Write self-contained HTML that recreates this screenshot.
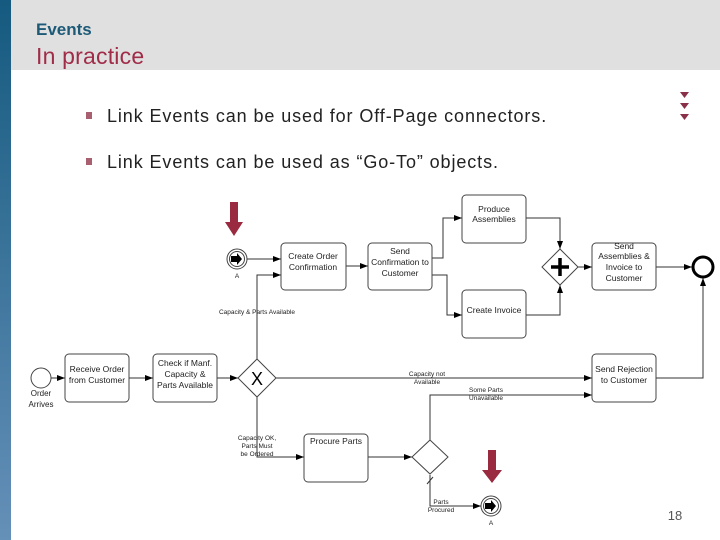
<!DOCTYPE html>
<html><head><meta charset="utf-8"><style>
html,body{margin:0;padding:0}
body{width:720px;height:540px;position:relative;overflow:hidden;background:#fff;font-family:"Liberation Sans",sans-serif}
.bar{position:absolute;left:0;top:0;width:11px;height:540px;background:linear-gradient(#155a80,#6590b8)}
.hdr{position:absolute;left:11px;top:0;width:709px;height:70px;background:#e0e0e0}
.t1{position:absolute;left:36px;top:20px;font-size:17px;font-weight:bold;color:#1d5a78}
.t2{position:absolute;left:36px;top:43px;font-size:23px;color:#a02c48;letter-spacing:0.2px}
.b{position:absolute;left:86px;font-size:18px;letter-spacing:0.9px;color:#222}
.b i{display:inline-block;width:6px;height:7px;background:#a86070;margin-right:15px;vertical-align:3px}
</style></head><body>
<div class="bar"></div><div class="hdr"></div>
<div class="t1">Events</div><div class="t2">In practice</div>
<div class="b" style="top:106px"><i></i>Link Events can be used for Off-Page connectors.</div>
<div class="b" style="top:152px"><i></i>Link Events can be used as “Go-To” objects.</div>
<svg width="720" height="540" style="position:absolute;left:0;top:0" font-family="Liberation Sans,sans-serif">
<defs><marker id="a" markerWidth="8" markerHeight="6" refX="8" refY="3" orient="auto" markerUnits="userSpaceOnUse"><path d="M0,0L8,3L0,6z" fill="#000"/></marker></defs>
<g fill="#8a3048"><path d="M680,92h9l-4.5,6z"/><path d="M680,103h9l-4.5,6z"/><path d="M680,114h9l-4.5,6z"/></g>
<g fill="#9a2a40"><path d="M230,202h8v20h5l-9,14l-9,-14h5z"/><path d="M488,450h8v20h6l-10,13l-10,-13h6z"/></g>
<g fill="none" stroke="#333" stroke-width="1">
<line x1="247" y1="259" x2="281" y2="259" marker-end="url(#a)"/>
<polyline points="257,359 257,275 281,275" marker-end="url(#a)"/>
<line x1="51" y1="378" x2="65" y2="378" marker-end="url(#a)"/>
<line x1="129" y1="378" x2="153" y2="378" marker-end="url(#a)"/>
<line x1="217" y1="378" x2="238" y2="378" marker-end="url(#a)"/>
<line x1="276" y1="378" x2="592" y2="378" marker-end="url(#a)"/>
<line x1="346" y1="266" x2="368" y2="266" marker-end="url(#a)"/>
<polyline points="432,258 443,258 443,218 462,218" marker-end="url(#a)"/>
<polyline points="432,275 447,275 447,315 462,315" marker-end="url(#a)"/>
<polyline points="526,218 560,218 560,249" marker-end="url(#a)"/>
<polyline points="526,315 560,315 560,285" marker-end="url(#a)"/>
<line x1="578" y1="267" x2="592" y2="267" marker-end="url(#a)"/>
<line x1="656" y1="267" x2="692" y2="267" marker-end="url(#a)"/>
<polyline points="656,378 703,378 703,278" marker-end="url(#a)"/>
<polyline points="430,440 430,395 592,395" marker-end="url(#a)"/>
<polyline points="257,397 257,457 304,457" marker-end="url(#a)"/>
<line x1="368" y1="457" x2="412" y2="457" marker-end="url(#a)"/>
<polyline points="430,475 430,506 481,506" marker-end="url(#a)"/>
<line x1="427" y1="484" x2="433" y2="477"/>
</g>
<g fill="#fff" stroke="#444" stroke-width="1">
<rect x="281" y="243" width="65" height="47" rx="4"/>
<rect x="368" y="243" width="64" height="47" rx="4"/>
<rect x="462" y="195" width="64" height="48" rx="4"/>
<rect x="462" y="290" width="64" height="48" rx="4"/>
<rect x="592" y="243" width="64" height="47" rx="4"/>
<rect x="592" y="354" width="64" height="48" rx="4"/>
<rect x="65" y="354" width="64" height="48" rx="4"/>
<rect x="153" y="354" width="64" height="48" rx="4"/>
<rect x="304" y="434" width="64" height="48" rx="4"/>
<path d="M257,359L276,378L257,397L238,378z"/>
<path d="M560,249L578,267L560,285L542,267z"/>
<path d="M430,440L448,457L430,474L412,457z"/>
<circle cx="41" cy="378" r="10"/>
</g>
<circle cx="703" cy="267" r="10" fill="#fff" stroke="#000" stroke-width="3"/>
<g><circle cx="237" cy="259" r="10" fill="#fff" stroke="#444"/><circle cx="237" cy="259" r="7.5" fill="#fff" stroke="#444"/><path d="M231,256h6v-3l5,6l-5,6v-3h-6z" fill="#000"/></g>
<g><circle cx="491" cy="506" r="10" fill="#fff" stroke="#444"/><circle cx="491" cy="506" r="7.5" fill="#fff" stroke="#444"/><path d="M485,503h6v-3l5,6l-5,6v-3h-6z" fill="#000"/></g>
<path d="M560,258v18M551,267h18" stroke="#000" stroke-width="3.5"/>
<text x="257" y="385" font-size="18" text-anchor="middle">X</text>
<g font-size="8.5" fill="#222" text-anchor="middle">
<text x="313" y="259">Create Order</text><text x="313" y="270">Confirmation</text>
<text x="400" y="254">Send</text><text x="400" y="265">Confirmation to</text><text x="400" y="276">Customer</text>
<text x="494" y="212">Produce</text><text x="494" y="222">Assemblies</text>
<text x="494" y="313">Create Invoice</text>
<text x="624" y="249">Send</text><text x="624" y="259">Assemblies &amp;</text><text x="624" y="270">Invoice to</text><text x="624" y="281">Customer</text>
<text x="624" y="372">Send Rejection</text><text x="624" y="383">to Customer</text>
<text x="97" y="372">Receive Order</text><text x="97" y="383">from Customer</text>
<text x="185" y="366">Check if Manf.</text><text x="185" y="377">Capacity &amp;</text><text x="185" y="388">Parts Available</text>
<text x="336" y="444">Procure Parts</text>
<text x="41" y="396" font-size="8">Order</text><text x="41" y="407" font-size="8">Arrives</text>
</g>
<g font-size="6.5" fill="#222" text-anchor="middle">
<text x="257" y="314">Capacity &amp; Parts Available</text>
<text x="427" y="376">Capacity not</text><text x="427" y="384">Available</text>
<text x="486" y="392">Some Parts</text><text x="486" y="400">Unavailable</text>
<text x="257" y="440">Capacity OK,</text><text x="257" y="448">Parts Must</text><text x="257" y="456">be Ordered</text>
<text x="441" y="504">Parts</text><text x="441" y="512">Procured</text>
<text x="237" y="278">A</text><text x="491" y="525">A</text>
</g>
<text x="675" y="520" font-size="13" fill="#555" text-anchor="middle">18</text>
</svg>
</body></html>
